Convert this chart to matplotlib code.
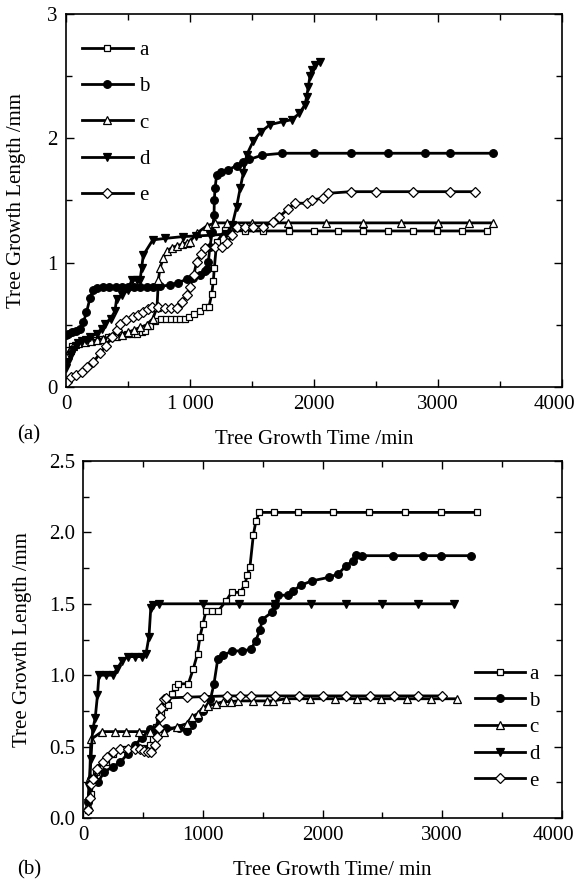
import matplotlib
matplotlib.use('Agg')
import matplotlib.pyplot as plt
import matplotlib.transforms as mtransforms
from matplotlib.ticker import MultipleLocator, FixedFormatter, FixedLocator

plt.rcParams['font.family'] = ['Liberation Serif', 'DejaVu Serif']
plt.rcParams['font.size'] = 15

# ---- panel (a) data (time in min, length in mm) ----
a_x = [15, 45, 80, 120, 160, 200, 240, 290, 340, 390, 440, 490, 530, 570, 610, 640, 680, 720,
       766, 805, 847, 885, 919, 960, 995, 1035, 1080, 1121, 1153, 1175, 1188, 1196, 1215, 1282,
       1444, 1589, 1798, 2000, 2194, 2395, 2597, 2798, 2992, 3194, 3395]
a_y = [0.30, 0.33, 0.34, 0.35, 0.36, 0.37, 0.38, 0.39, 0.40, 0.41, 0.42, 0.426, 0.43, 0.43, 0.44,
       0.447, 0.49, 0.53, 0.545, 0.545, 0.545, 0.545, 0.545, 0.55, 0.56, 0.585, 0.61, 0.64, 0.646,
       0.746, 0.853, 0.955, 1.164, 1.26, 1.255, 1.255, 1.255, 1.255, 1.255, 1.255, 1.255, 1.255,
       1.255, 1.255, 1.255]

b_x = [0, 20, 50, 80, 110, 140, 165, 194, 218, 250, 300, 350, 400, 450, 500, 550, 600, 650, 702,
       758, 839, 906, 973, 1027, 1081, 1121, 1134, 1148, 1161, 1180, 1194, 1196, 1202, 1215, 1250,
       1304, 1376, 1430, 1478, 1583, 1745, 2000, 2298, 2597, 2895, 3097, 3444]
b_y = [0.42, 0.43, 0.44, 0.45, 0.47, 0.52, 0.60, 0.716, 0.78, 0.80, 0.807, 0.807, 0.807, 0.807,
       0.807, 0.807, 0.807, 0.807, 0.807, 0.81, 0.82, 0.84, 0.866, 0.88, 0.90, 0.93, 0.947, 1.008,
       1.13, 1.25, 1.38, 1.50, 1.60, 1.706, 1.73, 1.745, 1.78, 1.81, 1.83, 1.865, 1.88, 1.88, 1.88,
       1.88, 1.88, 1.88, 1.88]

c_x = [0, 30, 60, 100, 150, 200, 250, 300, 350, 400, 450, 500, 550, 600, 650, 700, 734, 745, 758,
       785, 812, 852, 893, 933, 973, 1000, 1054, 1134, 1202, 1300, 1500, 1790, 2094, 2395, 2699,
       2998, 3247, 3446]
c_y = [0.25, 0.30, 0.33, 0.35, 0.36, 0.37, 0.38, 0.39, 0.40, 0.41, 0.42, 0.44, 0.46, 0.48, 0.50,
       0.55, 0.64, 0.86, 0.955, 1.04, 1.09, 1.12, 1.135, 1.148, 1.16, 1.17, 1.236, 1.295, 1.32,
       1.32, 1.32, 1.32, 1.32, 1.32, 1.32, 1.32, 1.32, 1.32]

d_x = [0, 20, 40, 60, 80, 100, 130, 160, 194, 247, 290, 315, 360, 395, 408, 450, 500, 530, 570,
       597, 610, 623, 700, 798, 946, 1050, 1161, 1290, 1340, 1376, 1405, 1430, 1457, 1511, 1570,
       1645, 1753, 1820, 1882, 1927, 1941, 1954, 1968, 1981, 2008, 2048]
d_y = [0.15, 0.20, 0.26, 0.30, 0.33, 0.35, 0.37, 0.38, 0.40, 0.43, 0.47, 0.51, 0.55, 0.61, 0.71,
       0.74, 0.78, 0.86, 0.86, 0.86, 0.955, 1.06, 1.183, 1.195, 1.21, 1.215, 1.22, 1.23, 1.30,
       1.45, 1.60, 1.72, 1.866, 1.98, 2.05, 2.11, 2.135, 2.15, 2.20, 2.27, 2.335, 2.415, 2.50,
       2.55, 2.59, 2.61]

e_x = [5, 40, 80, 126, 170, 220, 274, 320, 370, 408, 435, 480, 543, 580, 623, 660, 691, 740, 798,
       850, 893, 935, 973, 1000, 1030, 1054, 1090, 1121, 1200, 1260, 1300, 1340, 1376, 1440, 1511,
       1591, 1672, 1720, 1790, 1847, 1941, 1981, 2075, 2115, 2296, 2498, 2796, 3097, 3298]
e_y = [0.043, 0.08, 0.10, 0.123, 0.16, 0.20, 0.27, 0.33, 0.40, 0.46, 0.51, 0.54, 0.566, 0.58,
       0.606, 0.63, 0.646, 0.64, 0.633, 0.633, 0.633, 0.68, 0.74, 0.807, 0.90, 1.008, 1.07, 1.115,
       1.13, 1.13, 1.16, 1.22, 1.29, 1.29, 1.29, 1.29, 1.33, 1.37, 1.43, 1.478, 1.478, 1.505,
       1.518, 1.558, 1.571, 1.571, 1.571, 1.571, 1.571]

# ---- panel (b) data ----
a2_x = [37, 62, 86, 108, 138, 185, 246, 338, 431, 492, 554, 585, 609, 631, 652, 677, 708, 738,
        769, 794, 877, 917, 954, 975, 1000, 1025, 1077, 1128, 1192, 1240, 1315, 1351, 1371, 1393,
        1421, 1443, 1471, 1594, 1798, 2090, 2392, 2693, 2994, 3295]
a2_y = [0.056, 0.17, 0.27, 0.32, 0.36, 0.39, 0.45, 0.48, 0.49, 0.49, 0.51, 0.55, 0.64, 0.71,
        0.745, 0.775, 0.79, 0.87, 0.92, 0.94, 0.94, 1.04, 1.15, 1.27, 1.36, 1.45, 1.45, 1.45,
        1.52, 1.58, 1.58, 1.64, 1.70, 1.76, 1.98, 2.08, 2.14, 2.14, 2.14, 2.14, 2.14, 2.14, 2.14,
        2.14]

b2_x = [37, 62, 123, 169, 246, 308, 369, 431, 486, 554, 615, 692, 800, 862, 908, 954, 1000, 1062,
        1092, 1123, 1169, 1246, 1323, 1400, 1440, 1477, 1496, 1575, 1600, 1630, 1708, 1754, 1818,
        1910, 2057, 2133, 2197, 2253, 2280, 2333, 2593, 2844, 2994, 3245]
b2_y = [0.11, 0.27, 0.25, 0.32, 0.36, 0.39, 0.45, 0.51, 0.56, 0.62, 0.63, 0.63, 0.63, 0.61, 0.65,
        0.70, 0.75, 0.83, 0.94, 1.11, 1.14, 1.17, 1.17, 1.18, 1.24, 1.316, 1.39, 1.44, 1.49, 1.56,
        1.56, 1.59, 1.63, 1.66, 1.686, 1.71, 1.767, 1.80, 1.84, 1.837, 1.837, 1.837, 1.837, 1.837]

c2_x = [37, 52, 62, 154, 262, 354, 462, 554, 677, 785, 862, 908, 954, 1000, 1046, 1108, 1169,
        1231, 1292, 1415, 1538, 1585, 1692, 1892, 2108, 2292, 2492, 2708, 2908, 3123]
c2_y = [0.09, 0.29, 0.55, 0.605, 0.605, 0.605, 0.605, 0.605, 0.605, 0.64, 0.66, 0.71, 0.73, 0.77,
        0.785, 0.80, 0.815, 0.815, 0.82, 0.82, 0.82, 0.82, 0.835, 0.835, 0.835, 0.835, 0.835,
        0.835, 0.835, 0.835]

d2_x = [37, 49, 62, 77, 98, 117, 129, 185, 246, 277, 323, 369, 431, 492, 523, 548, 563, 585, 631,
        1000, 1300, 1600, 1900, 2200, 2500, 2800, 3100]
d2_y = [0.107, 0.22, 0.41, 0.62, 0.70, 0.86, 1.0, 1.0, 1.0, 1.04, 1.10, 1.13, 1.13, 1.13, 1.15,
        1.27, 1.47, 1.49, 1.50, 1.50, 1.50, 1.50, 1.50, 1.50, 1.50, 1.50, 1.50]

e2_x = [37, 52, 62, 77, 117, 160, 200, 246, 308, 369, 431, 477, 508, 538, 569, 600, 615, 631, 640,
        652, 671, 692, 862, 1009, 1200, 1308, 1400, 1600, 1800, 2000, 2200, 2400, 2600, 2800, 3000]
e2_y = [0.056, 0.14, 0.24, 0.27, 0.34, 0.39, 0.43, 0.46, 0.48, 0.48, 0.48, 0.48, 0.47, 0.465,
        0.465, 0.51, 0.57, 0.63, 0.71, 0.77, 0.83, 0.84, 0.846, 0.85, 0.855, 0.855, 0.855, 0.855,
        0.855, 0.855, 0.855, 0.855, 0.855, 0.855, 0.855]

labels = ['a', 'b', 'c', 'd', 'e']
markers = ['s', 'o', '^', 'v', 'D']
fills = ['white', 'black', 'white', 'black', 'white']
msizes = [5, 5.5, 6, 6, 5]


def style_axes(ax):
    ax.tick_params(which='both', direction='in', top=True, right=True, width=1.0, pad=6)
    ax.tick_params(which='major', length=6)
    ax.tick_params(which='minor', length=4)
    for s in ax.spines.values():
        s.set_linewidth(1.2)


def shift_last_xlabel(ax, px):
    lab = ax.get_xticklabels()[-1]
    lab.set_transform(lab.get_transform() +
                      mtransforms.ScaledTranslation(px / 100, 0, ax.figure.dpi_scale_trans))


fig = plt.figure(figsize=(5.79, 8.85), dpi=100)

# panel (a)
ax1 = fig.add_axes([0.114, 0.5627, 0.8566, 0.4215])
series_a = [(a_x, a_y), (b_x, b_y), (c_x, c_y), (d_x, d_y), (e_x, e_y)]
for (xs, ys), lab, m, fc, ms in zip(series_a, labels, markers, fills, msizes):
    ax1.plot(xs, ys, color='black', lw=2.0, marker=m, ms=ms, mfc=fc, mec='black', mew=0.9,
             label=lab)
ax1.set_xlim(0, 4000)
ax1.set_ylim(0, 3)
ax1.xaxis.set_major_locator(FixedLocator([0, 1000, 2000, 3000, 4000]))
ax1.xaxis.set_major_formatter(FixedFormatter(['0', '1 000', '2000', '3000', '4000']))
ax1.xaxis.set_minor_locator(MultipleLocator(500))
ax1.yaxis.set_major_locator(MultipleLocator(1))
ax1.yaxis.set_minor_locator(MultipleLocator(0.5))
style_axes(ax1)
ax1.set_xlabel('Tree Growth Time /min')
ax1.set_ylabel('Tree Growth Length /mm')
ax1.xaxis.set_label_coords(0.5, -0.115)
ax1.yaxis.set_label_coords(-0.08, 0.5)
ax1.legend(loc='upper left', bbox_to_anchor=(0.032, 0.929), frameon=False, borderpad=0,
           borderaxespad=0, handlelength=2.45, handletextpad=0.3, labelspacing=0.8)
shift_last_xlabel(ax1, -8)

# panel (b)
ax2 = fig.add_axes([0.1442, 0.0757, 0.8256, 0.4034])
series_b = [(a2_x, a2_y), (b2_x, b2_y), (c2_x, c2_y), (d2_x, d2_y), (e2_x, e2_y)]
for (xs, ys), lab, m, fc, ms in zip(series_b, labels, markers, fills, msizes):
    ax2.plot(xs, ys, color='black', lw=2.0, marker=m, ms=ms, mfc=fc, mec='black', mew=0.9,
             label=lab)
ax2.set_xlim(0, 4000)
ax2.set_ylim(0, 2.5)
ax2.xaxis.set_major_locator(FixedLocator([0, 1000, 2000, 3000, 4000]))
ax2.xaxis.set_minor_locator(MultipleLocator(500))
ax2.yaxis.set_major_locator(MultipleLocator(0.5))
ax2.yaxis.set_minor_locator(MultipleLocator(0.25))
ax2.yaxis.set_major_formatter(plt.FormatStrFormatter('%.1f'))
style_axes(ax2)
ax2.set_xlabel('Tree Growth Time/ min')
ax2.set_ylabel('Tree Growth Length /mm')
ax2.xaxis.set_label_coords(0.52, -0.12)
ax2.yaxis.set_label_coords(-0.108, 0.5)
ax2.legend(loc='upper left', bbox_to_anchor=(0.819, 0.43), frameon=False, borderpad=0,
           borderaxespad=0, handlelength=2.4, handletextpad=0.2, labelspacing=0.34)
shift_last_xlabel(ax2, -8)

fig.text(0.03, 1 - 435 / 885, '(a)', ha='left', va='center')
fig.text(0.03, 1 - 870 / 885, '(b)', ha='left', va='center')

fig.savefig('out.png', dpi=100)
